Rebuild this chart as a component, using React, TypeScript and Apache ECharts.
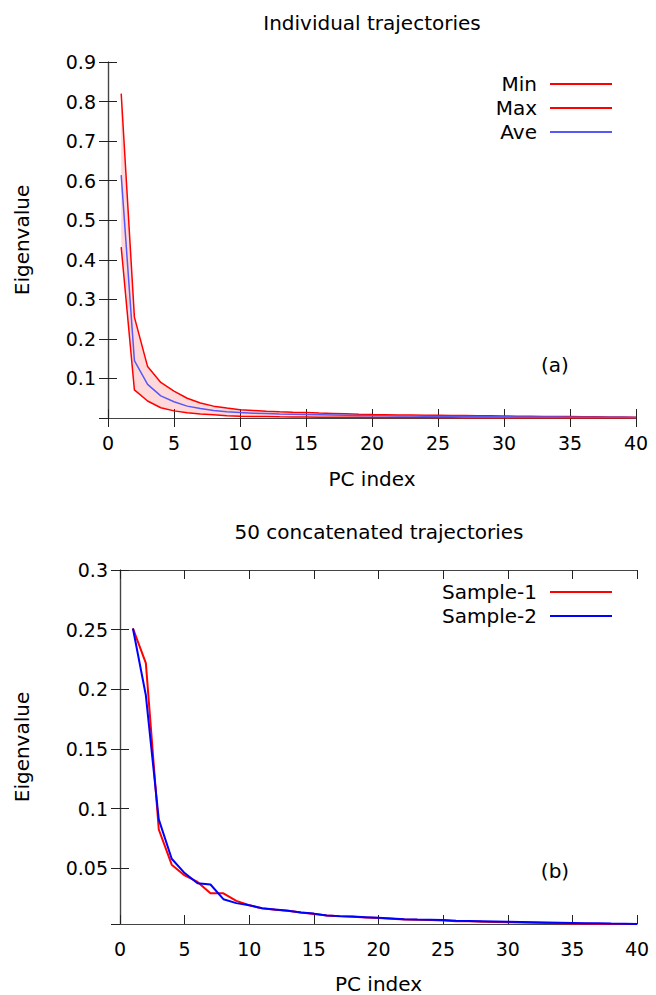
import React, { useEffect, useRef } from "react";
import * as echarts from "echarts";

const FONT = "DejaVu Sans";

const pcIndex = [1, 2, 3, 4, 5, 6, 7, 8, 9, 10, 11, 12, 13, 14, 15, 16, 17, 18, 19, 20, 21, 22, 23, 24, 25, 26, 27, 28, 29, 30, 31, 32, 33, 34, 35, 36, 37, 38, 39, 40];

// Panel (a): individual trajectories
const minVals = [0.432, 0.071, 0.043, 0.026, 0.018, 0.013, 0.01, 0.008, 0.006, 0.0045, 0.004, 0.0035, 0.003, 0.0028, 0.0025, 0.0022, 0.002, 0.0018, 0.0016, 0.0015, 0.0013, 0.0012, 0.0011, 0.001, 0.0008, 0.0006, 0.0003, 0.0002, 0.0002, 0.0002, 0.0002, 0.0002, 0.0002, 0.0002, 0.0002, 0.0002, 0.0002, 0.0002, 0.0002, 0.0002];
const maxVals = [0.82, 0.255, 0.13, 0.09, 0.068, 0.05, 0.038, 0.03, 0.025, 0.021, 0.019, 0.017, 0.0155, 0.0145, 0.0136, 0.0125, 0.0115, 0.0105, 0.0095, 0.0086, 0.0082, 0.0078, 0.0075, 0.0071, 0.0068, 0.0065, 0.0062, 0.0058, 0.0054, 0.005, 0.0047, 0.0044, 0.0041, 0.0038, 0.0035, 0.0032, 0.0029, 0.0026, 0.0023, 0.002];
const aveVals = [0.614, 0.145, 0.085, 0.056, 0.041, 0.03, 0.024, 0.019, 0.016, 0.0136, 0.0123, 0.0112, 0.0102, 0.0094, 0.0086, 0.008, 0.0074, 0.0069, 0.0064, 0.006, 0.0056, 0.0052, 0.0048, 0.0044, 0.004, 0.0038, 0.0036, 0.0034, 0.0032, 0.003, 0.0028, 0.0026, 0.0025, 0.0024, 0.0022, 0.0021, 0.002, 0.0018, 0.0017, 0.0015];

// Panel (b): 50 concatenated trajectories
const sample1 = [0.251, 0.222, 0.0825, 0.053, 0.044, 0.0386, 0.029, 0.029, 0.0227, 0.019, 0.0164, 0.0152, 0.0144, 0.013, 0.0117, 0.0105, 0.0098, 0.0094, 0.0088, 0.0083, 0.0077, 0.0071, 0.0068, 0.0066, 0.0063, 0.0057, 0.0055, 0.0052, 0.005, 0.0047, 0.0045, 0.0043, 0.0041, 0.004, 0.0038, 0.0036, 0.0034, 0.0032, 0.003, 0.0028];
const sample2 = [0.251, 0.195, 0.091, 0.058, 0.046, 0.0375, 0.0364, 0.0241, 0.0208, 0.019, 0.0165, 0.0155, 0.0145, 0.013, 0.012, 0.0104, 0.0099, 0.0095, 0.009, 0.0085, 0.0079, 0.0073, 0.007, 0.0068, 0.0066, 0.006, 0.0058, 0.0056, 0.0054, 0.0052, 0.005, 0.0048, 0.0046, 0.0044, 0.0042, 0.004, 0.0039, 0.0037, 0.0036, 0.0034];

const xTicks = { min: 0, max: 40, interval: 5 };
const yTopRange = { min: 0, max: 0.9, interval: 0.1 };
const yBotRange = { min: 0.0033, max: 0.3, step: 0.05 };

const pairs = (ys: number[]) => pcIndex.map((x, i) => [x, ys[i]]);

export default function App() {
  const ref = useRef<HTMLDivElement>(null);
  useEffect(() => {
    document.body.style.margin = "0";
    if (!ref.current) return;
    const chart = echarts.init(ref.current, undefined, { renderer: "svg" });
    const axisLine = { show: true, lineStyle: { color: "#444", width: 1.2 } };
    const tick = { show: true, inside: true, length: 9, lineStyle: { color: "#222", width: 1 } };
    const label = { color: "#000", fontSize: 19, fontFamily: FONT };
    const nameStyle = { color: "#000", fontSize: 20, fontFamily: FONT };

    const mkX = (grid: number, mirror: boolean) => ({
      type: "value",
      gridIndex: grid,
      position: mirror ? "top" : "bottom",
      min: xTicks.min,
      max: xTicks.max,
      interval: xTicks.interval,
      axisLine,
      axisTick: tick,
      splitLine: { show: false },
      axisLabel: mirror ? { show: false } : { ...label, margin: 15 },
      name: mirror ? "" : "PC index",
      nameLocation: "middle",
      nameGap: grid === 0 ? 51 : 50,
      nameTextStyle: nameStyle,
    });

    const mkY = (grid: number, mirror: boolean) => {
      const base: any = {
        type: "value",
        gridIndex: grid,
        position: mirror ? "right" : "left",
        axisLine,
        axisTick: tick,
        splitLine: { show: false },
        axisLabel: mirror ? { show: false } : { ...label, margin: 12, showMinLabel: false },
        name: mirror ? "" : "Eigenvalue",
        nameLocation: "middle",
        nameRotate: 90,
        nameGap: grid === 0 ? 76 : 88,
        nameTextStyle: nameStyle,
      };
      if (grid === 0) {
        base.min = yTopRange.min;
        base.max = yTopRange.max;
        base.interval = yTopRange.interval;
      } else {
        base.min = yBotRange.min;
        base.max = yBotRange.max;
        base.minInterval = yBotRange.step;
        base.maxInterval = yBotRange.step;
        base.splitNumber = 6;
      }
      return base;
    };

    const lineSeries = (name: string, data: number[], color: string, width: number, xi: number, yi: number) => ({
      name,
      type: "line",
      xAxisIndex: xi,
      yAxisIndex: yi,
      data: pairs(data),
      showSymbol: false,
      symbol: "none",
      itemStyle: { color },
      lineStyle: { color, width },
      z: 3,
    });

    const legendBase = {
      orient: "vertical",
      align: "right",
      icon: "rect",
      itemWidth: 62,
      itemHeight: 2,
      itemGap: 0,
      padding: 0,
      right: 44,
      selectedMode: false,
      textStyle: { color: "#000", fontSize: 20, fontFamily: FONT, lineHeight: 24, padding: [0, 8, 0, 0] },
    };

    chart.setOption({
      animation: false,
      backgroundColor: "#fff",
      textStyle: { fontFamily: FONT },
      title: [
        { text: "Individual trajectories", left: 372, top: 13, textAlign: "center", padding: 0, textStyle: { color: "#000", fontSize: 20, fontWeight: "normal", fontFamily: FONT } },
        { text: "50 concatenated trajectories", left: 379, top: 522, textAlign: "center", padding: 0, textStyle: { color: "#000", fontSize: 20, fontWeight: "normal", fontFamily: FONT } },
      ],
      legend: [
        { ...legendBase, top: 72, data: ["Min", "Max", "Ave"] },
        { ...legendBase, top: 580, data: ["Sample-1", "Sample-2"] },
      ],
      grid: [
        { left: 108, top: 62, width: 528, height: 356, containLabel: false },
        { left: 120, top: 570, width: 517, height: 355, containLabel: false },
      ],
      xAxis: [mkX(0, false), mkX(0, true), mkX(1, false), mkX(1, true)],
      yAxis: [mkY(0, false), mkY(0, true), mkY(1, false), mkY(1, true)],
      graphic: [
        { type: "text", x: 555, y: 365, style: { text: "(a)", fontSize: 20, fontFamily: FONT, fill: "#000", textAlign: "center", textVerticalAlign: "middle" } },
        { type: "text", x: 555, y: 871, style: { text: "(b)", fontSize: 20, fontFamily: FONT, fill: "#000", textAlign: "center", textVerticalAlign: "middle" } },
      ],
      series: [
        {
          name: "band",
          type: "custom",
          xAxisIndex: 0,
          yAxisIndex: 0,
          data: pcIndex.map((x, i) => [x, minVals[i], maxVals[i]]),
          silent: true,
          z: 1,
          renderItem: (params: any, api: any) => {
            if (params.dataIndex !== 0) return null;
            const upper = pcIndex.map((x, i) => api.coord([x, maxVals[i]]));
            const lower = pcIndex.map((x, i) => api.coord([x, minVals[i]])).reverse();
            return {
              type: "polygon",
              shape: { points: upper.concat(lower) },
              style: { fill: "rgba(255,0,0,0.15)", stroke: "none" },
            };
          },
        },
        lineSeries("Min", minVals, "#ff0000", 1.5, 0, 0),
        lineSeries("Max", maxVals, "#ff0000", 1.5, 0, 0),
        lineSeries("Ave", aveVals, "#5858f8", 1.5, 0, 0),
        lineSeries("Sample-1", sample1, "#ff0000", 2, 2, 2),
        lineSeries("Sample-2", sample2, "#0000ff", 2, 2, 2),
      ],
    });
    return () => chart.dispose();
  }, []);
  return <div ref={ref} style={{ width: 656, height: 995 }} />;
}
